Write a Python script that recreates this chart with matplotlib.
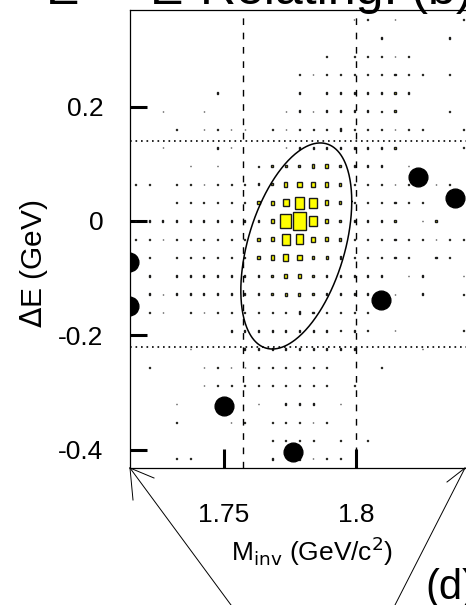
import matplotlib
matplotlib.use("Agg")
import matplotlib.pyplot as plt
import numpy as np
from matplotlib.patches import Rectangle
from matplotlib.lines import Line2D

plt.rcParams['font.family'] = ['Liberation Sans', 'DejaVu Sans']

# --- histogram (box plot), bins in M_inv and dE ---
m_bins = 1.7785 + 0.00515 * np.arange(-12, 13)      # bin centres (GeV/c2)
de_bins = 0.032 * np.arange(11, -14, -1)             # bin centres (GeV), top -> bottom
bin_w, bin_h = 0.00515, 0.032

# bin contents, rows from top (dE=0.352) to bottom (dE=-0.416), max = 100
counts = [
    [0,0,0,0,0,0,0,0,0,0,0,0,0,0,0,0,4,8,0,4,0,0,0,0,4],
    [0,0,0,0,0,0,0,0,0,0,0,0,0,0,0,0,0,0,8,4,0,0,0,8,0],
    [0,0,0,0,0,0,0,0,0,0,0,0,0,0,8,0,8,8,8,4,8,0,0,0,0],
    [0,0,0,0,0,0,0,0,0,0,0,0,4,4,4,4,8,4,8,8,8,4,0,4,0],
    [0,0,0,0,0,0,8,0,0,0,0,4,8,4,8,8,8,8,8,8,8,0,0,0,0],
    [0,0,4,0,0,4,0,0,0,0,0,4,8,4,8,12,8,8,4,8,0,0,0,4,0],
    [0,0,0,4,0,4,4,4,4,0,8,4,8,8,8,12,8,8,8,4,8,4,0,0,4],
    [0,0,4,0,0,0,8,4,0,0,0,4,8,8,8,8,8,8,8,8,0,0,0,0,4],
    [0,0,0,0,4,4,4,4,0,6,10,12,15,20,20,15,8,8,8,4,4,0,0,0,0],
    [4,8,0,8,4,4,8,8,8,12,12,24,30,30,24,15,8,8,8,4,8,0,4,8,0],
    [0,0,0,8,8,8,8,6,8,15,20,41,66,54,24,15,8,8,8,8,4,8,0,0,0],
    [4,8,8,8,8,8,8,6,8,12,24,78,100,54,24,15,8,8,8,8,0,4,8,0,0],
    [4,8,4,8,8,8,8,8,8,15,24,60,54,30,24,15,8,8,8,8,8,8,4,8,4],
    [0,8,0,8,8,8,8,8,8,15,24,34,30,20,15,12,8,8,8,8,8,0,8,8,0],
    [0,8,0,8,8,8,8,8,8,10,15,22,22,15,10,8,8,8,8,4,4,8,4,0,4],
    [0,8,4,8,8,8,8,8,8,8,12,15,15,12,8,8,8,8,0,4,0,8,0,0,4],
    [0,4,4,0,4,4,4,8,8,8,8,10,12,10,8,4,8,4,0,0,0,0,0,0,0],
    [0,0,0,0,0,0,0,8,8,8,8,8,12,8,8,4,8,4,0,4,0,0,0,0,4],
    [0,0,4,0,4,0,0,0,8,8,8,8,8,8,8,8,8,0,0,0,0,4,0,0,0],
    [0,4,0,0,0,4,4,4,4,4,8,8,8,8,8,0,0,0,4,0,0,0,0,0,0],
    [0,0,0,0,0,4,8,8,8,4,8,8,8,8,8,0,8,0,0,0,0,0,0,0,0],
    [0,0,0,4,0,0,0,0,0,4,4,8,8,8,0,4,4,0,0,0,0,0,0,0,0],
    [0,0,0,8,0,0,0,4,8,0,8,8,8,4,8,0,0,0,0,0,0,0,0,0,0],
    [0,0,0,0,0,0,0,0,0,0,8,8,8,8,0,4,0,4,0,0,0,0,0,0,0],
    [0,0,0,4,4,0,0,0,0,0,8,0,8,4,4,4,0,0,0,0,0,0,0,0,0],
]

# --- candidate events (data) ---
ev_m = [1.7142, 1.7142, 1.7500, 1.7761, 1.8094, 1.8232, 1.8372]
ev_de = [-0.072, -0.149, -0.323, -0.4035, -0.138, 0.0764, 0.0397]

# signal box cuts
m_cut = [1.7572, 1.8000]
de_cut = [-0.22, 0.14]

# signal ellipse: centre, half widths, tilt phase (deg)
ell_m, ell_de = 1.7773, -0.0437
ell_a, ell_b, ell_phi = 0.02092, 0.1802, 64.4

fig = plt.figure(figsize=(4.66, 6.05), dpi=100)
ax = fig.add_axes([130 / 466, 1 - 468 / 605, 359 / 466, 458 / 605])

for i, de in enumerate(de_bins):
    for k, m in enumerate(m_bins):
        v = counts[i][k]
        if v == 0:
            continue
        f = v / 100.0
        w, h = f * bin_w, f * bin_h
        ax.add_patch(Rectangle((m - w / 2, de - h / 2), w, h,
                               facecolor='#ffff00', edgecolor='#1a1a1a', lw=1.0, zorder=2))

# cut lines
for m in m_cut:
    ax.axvline(m, color='black', lw=1.0, dashes=(4.8, 5.5), zorder=3)
for d in de_cut:
    ax.axhline(d, color='black', lw=1.2, dashes=(1.0, 2.3), zorder=3)

# ellipse
t = np.linspace(0, 2 * np.pi, 400)
phi = np.radians(ell_phi)
ax.plot(ell_m + ell_a * np.cos(t), ell_de + ell_b * np.cos(t - phi), color='black', lw=1.1, zorder=4)

# events
ax.plot(ev_m, ev_de, 'o', color='black', ms=13.5, zorder=5, clip_on=True)

ax.set_xlim(1.71457, 1.85)
ax.set_ylim(-0.432, 0.369)
ax.set_xticks([1.75, 1.8])
ax.set_xticklabels(['1.75', '1.8'])
ax.set_yticks([-0.4, -0.2, 0, 0.2])
ax.set_yticklabels(['-0.4', '-0.2', '0', '0.2'])
ax.tick_params(axis='x', direction='in', length=13.7, width=2.2, labelsize=19, pad=25)
ax.tick_params(axis='y', direction='in', length=12.5, width=2.2, labelsize=19, pad=19)
for s in ax.spines.values():
    s.set_linewidth(0.9)

ax.set_xlabel(r'M$_{\rm inv}$ (GeV/c$^2$)', fontsize=19)
ax.set_ylabel(r'$\Delta$E (GeV)', fontsize=21.5)
ax.xaxis.set_label_coords((312 - 130) / 359, -(534 - 468) / 458)
ax.yaxis.set_label_coords(-80 / 359, (468 - 264) / 458)

# cropped panel labels and zoom lines
fig.text(46 / 466, 1 - 4 / 605, 'E', fontsize=36, va='baseline')
fig.text(150 / 466, 1 - 4 / 605, 'E', fontsize=36, va='baseline')
fig.text(200 / 466, 1 - 4 / 605, 'Relating: (b)', fontsize=36, va='baseline')
fig.text(425 / 466, 1 - 599 / 605, '(d)', fontsize=30, va='baseline')

def seg(x0, y0, x1, y1):
    fig.add_artist(Line2D([x0 / 466, x1 / 466], [1 - y0 / 605, 1 - y1 / 605],
                          color='black', lw=0.7, transform=fig.transFigure))

seg(130, 468, 231, 605)
seg(130, 468, 154, 478)
seg(130, 468, 133, 500)
seg(465, 468, 395, 605)
seg(465, 468, 447, 482)

fig.savefig('out.png', dpi=100)
